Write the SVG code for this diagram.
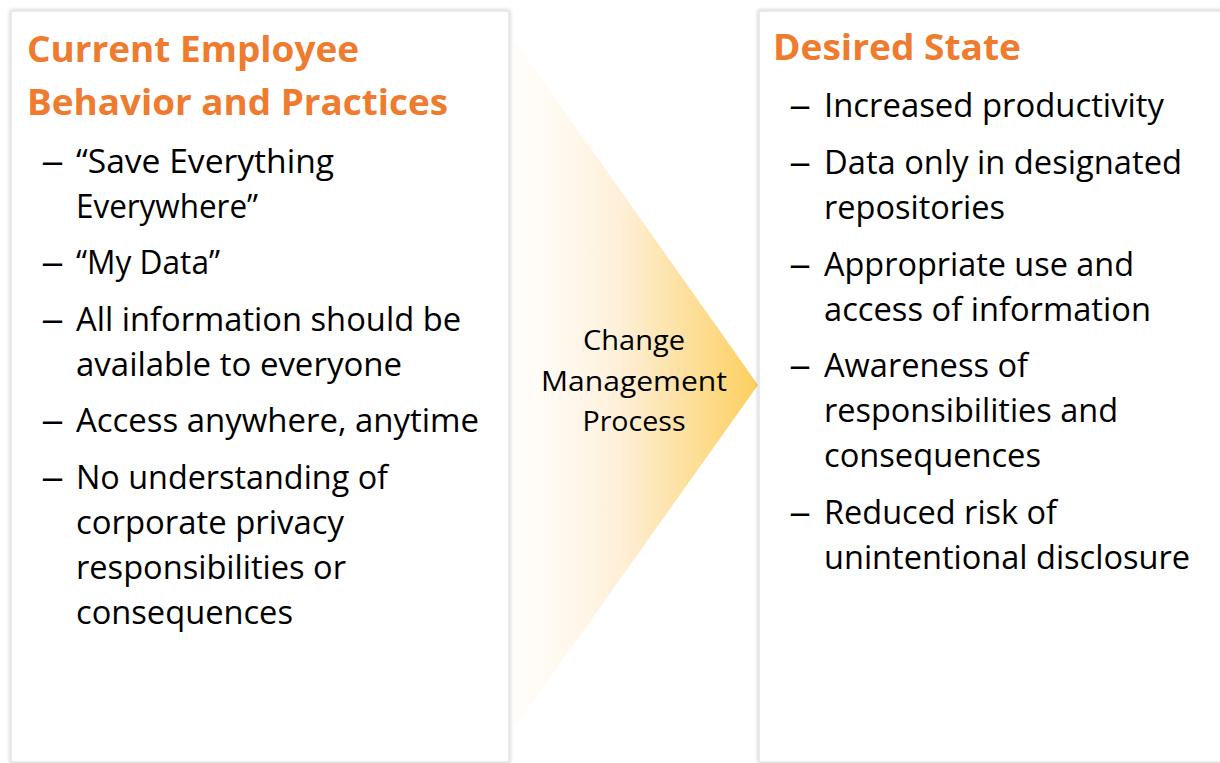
<svg xmlns="http://www.w3.org/2000/svg" width="1220" height="763" viewBox="0 0 1220 763">
  <style>
    .panel { fill: #ffffff; stroke: #e3e3e3; stroke-width: 1.5; }
    .title { font-family: "Open Sans", "Noto Sans", sans-serif; font-weight: 700; font-size: 35px; fill: #ee7b2e; }
    .item { font-family: "Open Sans", "Noto Sans", sans-serif; font-size: 33px; fill: #000000; }
    .dash { font-family: "Open Sans", "Noto Sans", sans-serif; font-size: 33px; fill: #000000; }
    .step { font-family: "Open Sans", "Noto Sans", sans-serif; font-size: 27.5px; fill: #000000; text-anchor: middle; }
  </style>
  <defs>
    <filter id="soft" x="-5%" y="-5%" width="110%" height="110%">
      <feGaussianBlur in="SourceAlpha" stdDeviation="2"/>
      <feComponentTransfer><feFuncA type="linear" slope="0.25"/></feComponentTransfer>
      <feMerge><feMergeNode/><feMergeNode in="SourceGraphic"/></feMerge>
    </filter>
    <linearGradient id="chevronFill" x1="512" y1="0" x2="758" y2="0" gradientUnits="userSpaceOnUse">
      <stop offset="0" stop-color="#fffbf4" stop-opacity="0.4"/>
      <stop offset="0.45" stop-color="#feefd6"/>
      <stop offset="1" stop-color="#fccf5e"/>
    </linearGradient>
  </defs>

  <rect width="1220" height="763" fill="#ffffff"/>

  <!-- left panel: current behaviour -->
  <g id="current">
    <rect class="panel" x="11" y="11" width="498" height="751" filter="url(#soft)"/>
    <text class="title" x="27" y="62" textLength="332" lengthAdjust="spacingAndGlyphs">Current Employee</text>
    <text class="title" x="27" y="115" textLength="421" lengthAdjust="spacingAndGlyphs">Behavior and Practices</text>

    <text class="dash" x="41" y="173" textLength="23" lengthAdjust="spacingAndGlyphs">–</text>
    <text class="item" x="76" y="173" textLength="258" lengthAdjust="spacingAndGlyphs">“Save Everything</text>
    <text class="item" x="76" y="218" textLength="182" lengthAdjust="spacingAndGlyphs">Everywhere”</text>

    <text class="dash" x="41" y="274" textLength="23" lengthAdjust="spacingAndGlyphs">–</text>
    <text class="item" x="76" y="274" textLength="144" lengthAdjust="spacingAndGlyphs">“My Data”</text>

    <text class="dash" x="41" y="331" textLength="23" lengthAdjust="spacingAndGlyphs">–</text>
    <text class="item" x="76" y="331" textLength="385" lengthAdjust="spacingAndGlyphs">All information should be</text>
    <text class="item" x="76" y="376" textLength="326" lengthAdjust="spacingAndGlyphs">available to everyone</text>

    <text class="dash" x="41" y="432" textLength="23" lengthAdjust="spacingAndGlyphs">–</text>
    <text class="item" x="76" y="432" textLength="403" lengthAdjust="spacingAndGlyphs">Access anywhere, anytime</text>

    <text class="dash" x="41" y="489" textLength="23" lengthAdjust="spacingAndGlyphs">–</text>
    <text class="item" x="76" y="489" textLength="312" lengthAdjust="spacingAndGlyphs">No understanding of</text>
    <text class="item" x="76" y="534" textLength="268" lengthAdjust="spacingAndGlyphs">corporate privacy</text>
    <text class="item" x="76" y="579" textLength="270" lengthAdjust="spacingAndGlyphs">responsibilities or</text>
    <text class="item" x="76" y="624" textLength="217" lengthAdjust="spacingAndGlyphs">consequences</text>
  </g>

  <!-- centre chevron: the transition process -->
  <g id="process">
    <polygon points="512,37 758,385 512,731" fill="url(#chevronFill)"/>
    <text class="step" x="634" y="350" textLength="102" lengthAdjust="spacingAndGlyphs">Change</text>
    <text class="step" x="634" y="391" textLength="186" lengthAdjust="spacingAndGlyphs">Management</text>
    <text class="step" x="634" y="431" textLength="103" lengthAdjust="spacingAndGlyphs">Process</text>
  </g>

  <!-- right panel: target state -->
  <g id="desired">
    <rect class="panel" x="759" y="11" width="475" height="751" filter="url(#soft)"/>
    <text class="title" x="773" y="60" textLength="248" lengthAdjust="spacingAndGlyphs">Desired State</text>

    <text class="dash" x="789" y="117" textLength="22" lengthAdjust="spacingAndGlyphs">–</text>
    <text class="item" x="824" y="117" textLength="340" lengthAdjust="spacingAndGlyphs">Increased productivity</text>

    <text class="dash" x="789" y="174" textLength="22" lengthAdjust="spacingAndGlyphs">–</text>
    <text class="item" x="824" y="174" textLength="358" lengthAdjust="spacingAndGlyphs">Data only in designated</text>
    <text class="item" x="824" y="219" textLength="181" lengthAdjust="spacingAndGlyphs">repositories</text>

    <text class="dash" x="789" y="276" textLength="22" lengthAdjust="spacingAndGlyphs">–</text>
    <text class="item" x="824" y="276" textLength="310" lengthAdjust="spacingAndGlyphs">Appropriate use and</text>
    <text class="item" x="824" y="321" textLength="327" lengthAdjust="spacingAndGlyphs">access of information</text>

    <text class="dash" x="789" y="377" textLength="22" lengthAdjust="spacingAndGlyphs">–</text>
    <text class="item" x="824" y="377" textLength="204" lengthAdjust="spacingAndGlyphs">Awareness of</text>
    <text class="item" x="824" y="422" textLength="294" lengthAdjust="spacingAndGlyphs">responsibilities and</text>
    <text class="item" x="824" y="467" textLength="217" lengthAdjust="spacingAndGlyphs">consequences</text>

    <text class="dash" x="789" y="524" textLength="22" lengthAdjust="spacingAndGlyphs">–</text>
    <text class="item" x="824" y="524" textLength="233" lengthAdjust="spacingAndGlyphs">Reduced risk of</text>
    <text class="item" x="824" y="569" textLength="366" lengthAdjust="spacingAndGlyphs">unintentional disclosure</text>
  </g>
</svg>
